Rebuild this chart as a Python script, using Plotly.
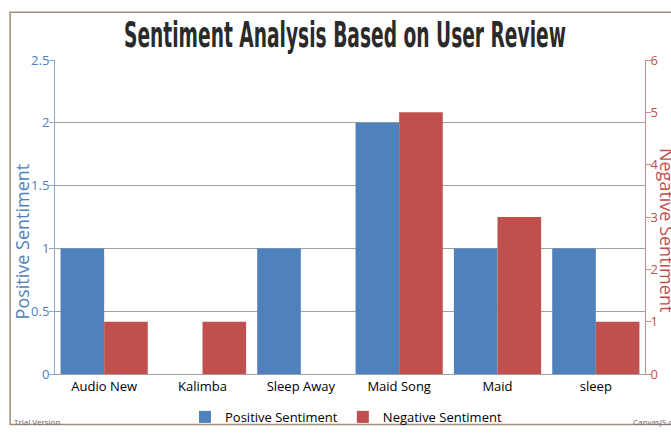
import plotly.graph_objects as go

# Review sentiment counts per track
categories = ["Audio New", "Kalimba", "Sleep Away", "Maid Song", "Maid", "sleep"]
positive = [1, 0, 1, 2, 1, 1]
negative = [1, 1, 0, 5, 3, 1]

left_ticks = [0, 0.5, 1, 1.5, 2, 2.5]
right_ticks = [0, 1, 2, 3, 4, 5, 6]

BLUE = "#4F81BC"
RED = "#C0504E"

W, H = 671, 444
L, R, T, B = 55, 24, 60, 55
pw, ph = W - L - R, H - T - B


def px(x):
    return (x - L) / pw


def py(y):
    return (H - B - y) / ph


fig = go.Figure()
fig.add_trace(go.Bar(
    x=categories, y=positive, name="Positive Sentiment",
    marker=dict(color=BLUE, line=dict(width=0)),
    offsetgroup="pos", yaxis="y",
))
fig.add_trace(go.Bar(
    x=categories, y=negative, name="Negative Sentiment",
    marker=dict(color=RED, line=dict(width=0)),
    offsetgroup="neg", yaxis="y2",
))

fig.update_layout(
    width=W, height=H,
    margin=dict(l=L, r=R, t=T, b=B),
    paper_bgcolor="white", plot_bgcolor="white",
    barmode="group", bargap=0.113, bargroupgap=0,
    font=dict(family="Open Sans, DejaVu Sans, sans-serif", size=13, color="#000000"),
    showlegend=True,
    legend=dict(
        orientation="h", x=px(347), xanchor="center", y=py(434), yanchor="middle",
        font=dict(size=13, color="#000000"), itemwidth=30,
        bgcolor="rgba(0,0,0,0)", traceorder="normal",
    ),
    xaxis=dict(
        showgrid=False, showline=True, linecolor="#A0A0A0", linewidth=1,
        ticks="", tickfont=dict(size=13, color="#000000"),
        zeroline=False,
    ),
    yaxis=dict(
        range=[0, 2.5], tickvals=left_ticks,
        ticktext=[("%g" % v) for v in left_ticks],
        showgrid=True, gridcolor="#A0A0A0", gridwidth=1,
        showline=True, linecolor="#8FA9D4", linewidth=1,
        ticks="outside", ticklen=5, tickcolor="#8FA9D4", ticklabelstandoff=-3,
        tickfont=dict(size=13, color=BLUE), zeroline=False,
    ),
    yaxis2=dict(
        range=[0, 6], tickvals=right_ticks, overlaying="y", side="right",
        showgrid=False, showline=True, linecolor="#D38A88", linewidth=1,
        ticks="outside", ticklen=5, tickcolor="#D38A88", ticklabelstandoff=-3,
        tickfont=dict(size=13, color=RED), zeroline=False,
    ),
)

annotations = [
    dict(text="Sentiment Analysis Based on User Review", x=px(346), y=py(33),
         xref="paper", yref="paper", showarrow=False, xanchor="center", yanchor="middle",
         font=dict(family="DejaVu Sans, sans-serif", size=36, color="#2A2A2A", weight="bold")),
    dict(text="Positive Sentiment", x=px(22), y=py(250), xref="paper", yref="paper",
         showarrow=False, textangle=-90, xanchor="center", yanchor="middle",
         font=dict(size=18, color=BLUE)),
    dict(text="Negative Sentiment", x=px(669), y=py(238), xref="paper", yref="paper",
         showarrow=False, textangle=90, xanchor="center", yanchor="middle",
         font=dict(size=18, color=RED)),
    dict(text="Trial Version", x=px(12), y=py(439), xref="paper", yref="paper",
         showarrow=False, xanchor="left", yanchor="middle",
         font=dict(size=8, color="#666666")),
    dict(text="CanvasJS.com", x=px(633), y=py(439), xref="paper", yref="paper",
         showarrow=False, xanchor="left", yanchor="middle",
         font=dict(size=8, color="#666666")),
]
fig.update_layout(annotations=annotations)

# page frame
fig.add_shape(type="path", xref="paper", yref="paper",
              path=f"M {px(680)},{py(10)} L {px(10)},{py(10)} L {px(10)},{py(442)} L {px(680)},{py(442)}",
              line=dict(color="#A08C80", width=1.5), layer="above")

# condense the heading horizontally so it spans the same width as a narrow display face
squeeze_js = """
var gd = document.getElementById('{plot_id}');
function squeezeTitle() {
  var t = gd.querySelector('g.annotation[data-index="0"] text.annotation-text');
  if (!t) return;
  t.removeAttribute('transform');
  var b = t.getBBox();
  var sx = 442 / b.width;
  var cx = b.x + b.width / 2;
  t.setAttribute('transform',
    'translate(' + cx + ',0) scale(' + sx + ',1) translate(' + (-cx) + ',0)');
}
squeezeTitle();
gd.on('plotly_afterplot', squeezeTitle);
"""

fig.write_html("out.html", post_script=squeeze_js)
